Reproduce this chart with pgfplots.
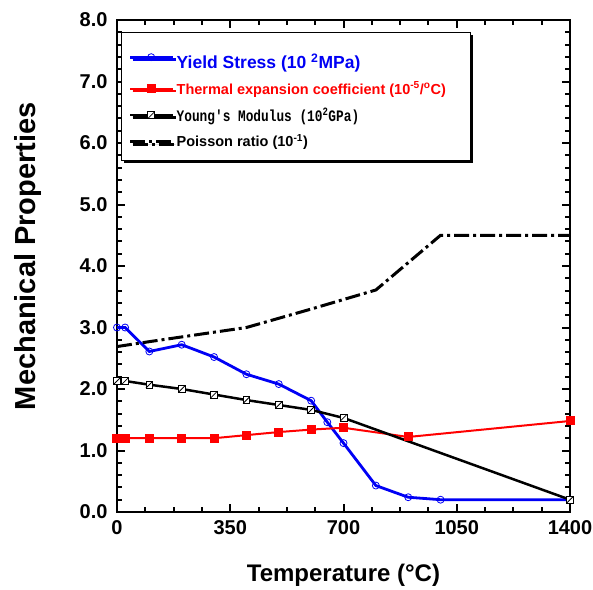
\documentclass[border=0pt]{standalone}
\usepackage{pgfplots}
\pgfplotsset{compat=1.18}
\usepackage{fontspec}
\setmainfont{Liberation Sans}
\newfontfamily\ymono[FakeStretch=0.8]{Liberation Mono}
\usetikzlibrary{shadows}

\pgfdeclareplotmark{slashsq}{%
  \pgfpathrectangle{\pgfpoint{-\pgfplotmarksize}{-\pgfplotmarksize}}{\pgfpoint{2\pgfplotmarksize}{2\pgfplotmarksize}}%
  \pgfusepathqfillstroke
  \pgfpathmoveto{\pgfpoint{-\pgfplotmarksize}{-\pgfplotmarksize}}%
  \pgfpathlineto{\pgfpoint{\pgfplotmarksize}{\pgfplotmarksize}}%
  \pgfusepathqstroke}

\definecolor{ysblue}{RGB}{0,0,245}
\definecolor{tered}{RGB}{255,0,0}

\begin{document}
\begin{tikzpicture}
\useasboundingbox (-117bp,-78bp) rectangle (476bp,512bp);
\begin{axis}[
  at={(0,0)}, anchor=south west,
  scale only axis, width=453bp, height=492bp,
  xmin=0, xmax=1400, ymin=0, ymax=8,
  xtick={0,350,700,1050,1400}, ytick={0,1,2,3,4,5,6,7,8},
  minor x tick num=3, minor y tick num=4,
  tick align=inside,
  major tick length=8bp, minor tick length=5bp,
  every tick/.style={line width=2bp, black},
  axis line style={line width=2.5bp},
  /pgf/number format/assume math mode=true,
  tick label style={font=\fontsize{20bp}{24bp}\selectfont\bfseries},
  yticklabel style={xshift=-6bp,/pgf/number format/.cd, fixed, fixed zerofill, precision=1},
  xticklabel style={yshift=-5bp,/pgf/number format/.cd, fixed, precision=0, 1000 sep={}},
  xlabel={Temperature (°C)},
  ylabel={Mechanical Properties},
  xlabel style={font=\fontsize{24bp}{28bp}\selectfont\bfseries, at={(axis description cs:0.5,-0.128)}, anchor=center},
  ylabel style={font=\fontsize{29bp}{34bp}\selectfont\bfseries, at={(axis description cs:-0.196,0.52)}, anchor=center},
  legend image code/.code={\draw[mark repeat=2,mark phase=2,#1] plot coordinates {(0bp,0bp) (21bp,0bp) (43bp,0bp)};},
  legend style={at={(axis description cs:0.009,0.976)}, anchor=north west, draw=black, line width=1.2bp, fill=white,
    drop shadow={shadow xshift=2.5bp, shadow yshift=-2.5bp, fill=black, opacity=1},
    inner xsep=7bp, inner ysep=10bp, row sep=8bp, cells={anchor=west},
    font=\fontsize{15bp}{18bp}\selectfont\bfseries},
  clip=false,
]
\addplot[ysblue, line width=2.8bp, mark=o, mark size=3.5bp, mark options={line width=0.8bp, solid, fill=none}]
  coordinates {(0,3.0) (25,3.0) (100,2.61) (200,2.72) (300,2.52) (400,2.24) (500,2.08) (600,1.81) (650,1.46) (700,1.12) (800,0.43) (900,0.24) (1000,0.2) (1400,0.2)};
\addlegendentry{\rule{0pt}{24bp}\textcolor{ysblue}{\fontsize{17.5bp}{20bp}\selectfont Yield Stress (10 \textsuperscript{2}MPa)}}
\addplot[tered, line width=2bp, mark=square*, mark size=3.5bp, mark options={solid}]
  coordinates {(0,1.2) (25,1.2) (100,1.2) (200,1.2) (300,1.2) (400,1.25) (500,1.30) (600,1.34) (700,1.37) (900,1.22) (1400,1.48)};
\addlegendentry{\textcolor{tered}{\fontsize{14.5bp}{18bp}\selectfont Thermal expansion coefficient (10\textsuperscript{-5}/\textsuperscript{o}C)\hspace{16bp}}}
\addplot[black, line width=2.5bp, mark=slashsq, mark size=3.4bp, mark options={solid, fill=white, line width=0.8bp}]
  coordinates {(0,2.13) (25,2.13) (100,2.07) (200,2.0) (300,1.91) (400,1.82) (500,1.74) (600,1.66) (700,1.53) (1400,0.2)};
\addlegendentry{{\ymono\fontsize{16bp}{18bp}\selectfont Young's Modulus (10\textsuperscript{2}GPa)}}
\addplot[black, line width=3bp, dash pattern=on 15bp off 4bp on 3bp off 4bp]
  coordinates {(0,2.69) (100,2.77) (400,3.0) (600,3.3) (800,3.61) (1000,4.5) (1400,4.5)};
\addlegendentry{{\fontsize{14.5bp}{18bp}\selectfont Poisson ratio (10\textsuperscript{-1})}}
\end{axis}
\end{tikzpicture}
\end{document}
